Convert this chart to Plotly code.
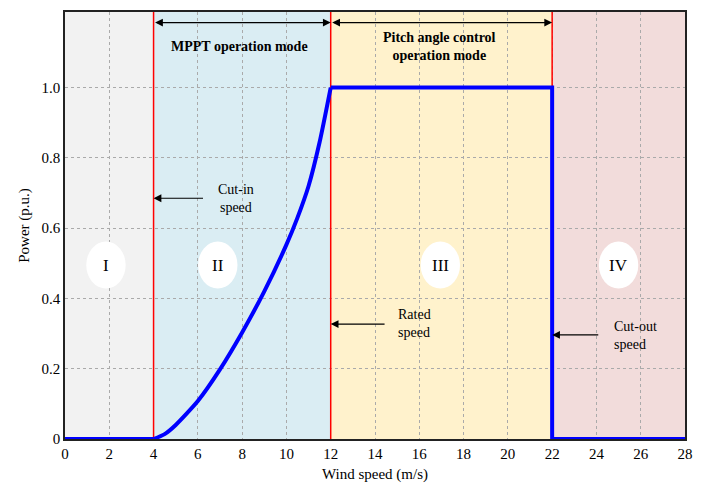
import plotly.graph_objects as go

# ---- data ----
curve_wind = [4, 4.5, 5, 6, 7, 8, 9, 10, 10.5, 11, 11.5, 12]
curve_power = [0, 0.014, 0.04, 0.108, 0.198, 0.303, 0.42, 0.553, 0.63, 0.72, 0.845, 1.0]
flat_wind = [0, 4]
flat_power = [0, 0]
rated_wind = [12, 22, 22, 28]
rated_power = [1.0, 1.0, 0, 0]

region_edges = [0, 4, 12, 22, 28]
region_colors = ["#F2F2F2", "#DAEDF3", "#FFF2CC", "#F2DCDB"]
region_labels = ["I", "II", "III", "IV"]
region_label_x = [1.85, 6.9, 16.95, 25.0]
region_label_y = 0.495
boundary_speeds = [4, 12, 22]

x_ticks = list(range(0, 29, 2))
y_ticks = [0, 0.2, 0.4, 0.6, 0.8, 1.0]
y_tick_text = ["0", "0.2", "0.4", "0.6", "0.8", "1.0"]

FONT = "Liberation Serif"

fig = go.Figure()

blue = "#0000FF"
fig.add_trace(go.Scatter(x=flat_wind, y=flat_power, mode="lines",
                         line=dict(color=blue, width=4), showlegend=False))
fig.add_trace(go.Scatter(x=curve_wind, y=curve_power, mode="lines",
                         line=dict(color=blue, width=4, shape="spline", smoothing=0.6),
                         showlegend=False))
fig.add_trace(go.Scatter(x=rated_wind, y=rated_power, mode="lines",
                         line=dict(color=blue, width=4), showlegend=False))

shapes = []
for i, col in enumerate(region_colors):
    shapes.append(dict(type="rect", xref="x", yref="y",
                       x0=region_edges[i], x1=region_edges[i + 1], y0=0, y1=1.215,
                       fillcolor=col, line=dict(width=0), layer="below"))
for v in boundary_speeds:
    shapes.append(dict(type="line", xref="x", yref="y", x0=v, x1=v, y0=0, y1=1.215,
                       line=dict(color="#FF0000", width=1.5), layer="between"))
for cx in region_label_x:
    shapes.append(dict(type="circle", xref="x", yref="y",
                       x0=cx - 0.89, x1=cx + 0.89,
                       y0=region_label_y - 0.067, y1=region_label_y + 0.067,
                       fillcolor="white", line=dict(width=0), layer="between"))
fig.update_layout(shapes=shapes)

ann = []
for lbl, cx in zip(region_labels, region_label_x):
    ann.append(dict(x=cx, y=region_label_y, xref="x", yref="y", text=lbl,
                    showarrow=False, font=dict(family=FONT, size=17, color="black")))

# double-headed arrows at top
arrow_y = 1.185
for a, b in [(4, 12), (12, 22)]:
    ann.append(dict(x=b, y=arrow_y, ax=a, ay=arrow_y, xref="x", yref="y",
                    axref="x", ayref="y", text="", showarrow=True,
                    arrowhead=2, arrowside="end+start", arrowsize=1.3,
                    arrowwidth=1.2, arrowcolor="black", standoff=0, startstandoff=0))

ann.append(dict(x=7.9, y=1.117, xref="x", yref="y", text="<b>MPPT operation mode</b>",
                showarrow=False, font=dict(family=FONT, size=14, color="black")))
ann.append(dict(x=16.9, y=1.117, xref="x", yref="y",
                text="<b>Pitch angle control<br>operation mode</b>",
                showarrow=False, font=dict(family=FONT, size=14, color="black")))

# side arrows
for head, tail, yy in [(4, 6.3, 0.685), (12, 14.5, 0.327), (22, 24.15, 0.296)]:
    ann.append(dict(x=head, y=yy, ax=tail, ay=yy, xref="x", yref="y",
                    axref="x", ayref="y", text="", showarrow=True,
                    arrowhead=2, arrowsize=1.3, arrowwidth=1.2,
                    arrowcolor="black", standoff=0))

ann.append(dict(x=7.7, y=0.685, xref="x", yref="y", text="Cut-in<br>speed",
                showarrow=False, align="center",
                font=dict(family=FONT, size=14, color="black")))
ann.append(dict(x=14.95, y=0.33, xref="x", yref="y", text="Rated<br>speed",
                showarrow=False, align="left", xanchor="left",
                font=dict(family=FONT, size=14, color="black")))
ann.append(dict(x=24.7, y=0.295, xref="x", yref="y", text="Cut-out<br>speed",
                showarrow=False, align="left", xanchor="left",
                font=dict(family=FONT, size=14, color="black")))
fig.update_layout(annotations=ann)

axis_common = dict(showline=True, linecolor="#222222", linewidth=1.5, mirror=True,
                   showgrid=True, gridcolor="#AAAAAA", griddash="dot", gridwidth=1,
                   zeroline=False, ticks="",
                   tickfont=dict(family=FONT, size=15, color="black"))

fig.update_xaxes(range=[0, 28], tickvals=x_ticks,
                 title=dict(text="Wind speed (m/s)", font=dict(family=FONT, size=15, color="black"),
                            standoff=8),
                 **axis_common)
fig.update_yaxes(range=[0, 1.215], tickvals=y_ticks, ticktext=y_tick_text,
                 title=dict(text="Power (p.u.)", font=dict(family=FONT, size=15, color="black"),
                            standoff=8),
                 **axis_common)

fig.update_layout(width=702, height=489,
                  margin=dict(l=65, r=9, t=12, b=48),
                  paper_bgcolor="white", plot_bgcolor="white",
                  showlegend=False)

fig.write_html("out.html")
